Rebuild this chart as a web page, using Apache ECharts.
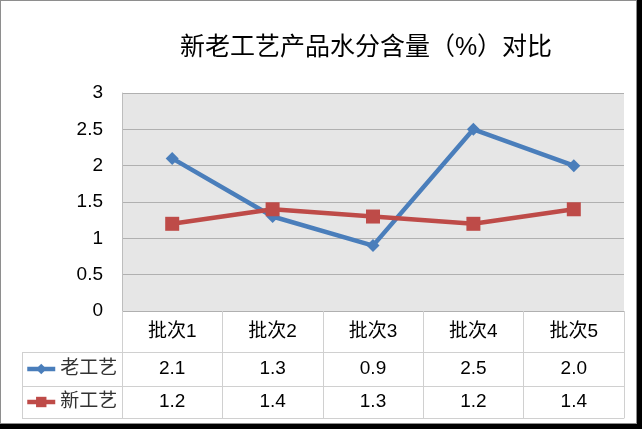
<!DOCTYPE html>
<html>
<head>
<meta charset="utf-8">
<script src="https://cdn.jsdelivr.net/npm/echarts@6/dist/echarts.min.js"></script>
<style>
  html, body { margin: 0; padding: 0; background: #000; }
  #wrap { position: relative; width: 642px; height: 429px; background: #000; overflow: hidden; }
  #card { position: absolute; left: 0; top: 0; width: 637px; height: 424px; box-sizing: border-box;
          background: #fff; border: 1px solid #8e8e8e; }
  #chart { position: absolute; left: 0; top: 0; width: 642px; height: 429px; }
</style>
</head>
<body>
<div id="wrap">
  <div id="card"></div>
  <div id="chart"></div>
</div>
<script>
// Batches and moisture content (%) for the old and new process
const categories = ['批次1', '批次2', '批次3', '批次4', '批次5'];
const oldProcess = [2.1, 1.3, 0.9, 2.5, 2.0];
const newProcess = [1.2, 1.4, 1.3, 1.2, 1.4];
const seriesNames = ['老工艺', '新工艺'];
const yTicks = { min: 0, max: 3, interval: 0.5 };

const FONT = '"Liberation Sans", Arial, "Noto Sans CJK SC", sans-serif';
const TABLE_LINE = '#d0d0d0';
const BLUE = '#4a7ebb';
const RED = '#be4b48';
const fmt = v => v.toFixed(1);

// layout of the plot and the data table below it
const plotLeft = 122, plotRight = 624, plotTop = 93, plotBottom = 311;
const rowLines = [352, 386, 418];
const keyLeft = 22;

const chart = echarts.init(document.getElementById('chart'), null, { renderer: 'canvas' });

const tableAxis = (values, offset, margin) => ({
  type: 'category',
  position: 'bottom',
  data: values,
  offset: offset,
  boundaryGap: true,
  axisLine: { show: true, lineStyle: { color: TABLE_LINE, width: 1 } },
  axisTick: { show: false },
  splitLine: { show: false },
  axisLabel: {
    show: margin !== null,
    interval: 0,
    margin: margin || 0,
    verticalAlign: 'middle',
    color: '#000',
    fontFamily: FONT,
    fontSize: 19
  }
});

const option = {
  animation: false,
  textStyle: { fontFamily: FONT },
  title: {
    text: '新老工艺产品水分含量（%）对比',
    left: 366,
    top: 36,
    textAlign: 'center',
    padding: 0,
    textStyle: { fontFamily: FONT, fontSize: 25, fontWeight: 'normal', color: '#000' }
  },
  legend: {
    data: seriesNames,
    orient: 'vertical',
    left: 25,
    top: 359,
    itemWidth: 28,
    itemHeight: 13,
    itemGap: 13,
    padding: 0,
    lineStyle: { width: 4.5 },
    textStyle: { fontFamily: FONT, fontSize: 19, color: '#333', lineHeight: 20 }
  },
  grid: {
    left: plotLeft,
    right: 642 - plotRight,
    top: plotTop,
    bottom: 429 - plotBottom,
    show: true,
    backgroundColor: '#e6e6e6',
    borderWidth: 0,
    containLabel: false
  },
  xAxis: [
    {
      type: 'category',
      position: 'bottom',
      data: categories,
      boundaryGap: true,
      axisLine: { show: false },
      axisTick: { show: true, inside: false, length: rowLines[2] - plotBottom, lineStyle: { color: TABLE_LINE, width: 1 } },
      splitLine: { show: false },
      axisLabel: { interval: 0, margin: 21, verticalAlign: 'middle', color: '#000', fontFamily: FONT, fontSize: 19 }
    },
    tableAxis(oldProcess.map(fmt), rowLines[0] - plotBottom, 17),
    tableAxis(newProcess.map(fmt), rowLines[1] - plotBottom, 16),
    tableAxis(categories, rowLines[2] - plotBottom, null)
  ],
  yAxis: {
    type: 'value',
    min: yTicks.min,
    max: yTicks.max,
    interval: yTicks.interval,
    axisLine: { show: true, lineStyle: { color: '#bdbdbd', width: 1 } },
    axisTick: { show: false },
    splitLine: { show: true, lineStyle: { color: '#b0b0b0', width: 1 } },
    axisLabel: {
      margin: 19,
      color: '#000',
      fontFamily: FONT,
      fontSize: 19,
      formatter: v => String(v)
    }
  },
  series: [
    {
      name: seriesNames[0],
      type: 'line',
      xAxisIndex: 0,
      data: oldProcess,
      symbol: 'diamond',
      symbolSize: 13,
      lineStyle: { color: BLUE, width: 4.5 },
      itemStyle: { color: BLUE }
    },
    {
      name: seriesNames[1],
      type: 'line',
      xAxisIndex: 0,
      data: newProcess,
      symbol: 'rect',
      symbolSize: 14,
      lineStyle: { color: RED, width: 4.5 },
      itemStyle: { color: RED }
    }
  ],
  graphic: [
    // borders of the series-key column of the data table
    ...rowLines.map(y => ({
      type: 'line', silent: true,
      shape: { x1: keyLeft, y1: y + 0.5, x2: plotLeft, y2: y + 0.5 },
      style: { stroke: TABLE_LINE, lineWidth: 1 }
    })),
    {
      type: 'line', silent: true,
      shape: { x1: keyLeft + 0.5, y1: rowLines[0], x2: keyLeft + 0.5, y2: rowLines[2] + 0.5 },
      style: { stroke: TABLE_LINE, lineWidth: 1 }
    }
  ]
};

chart.setOption(option);
</script>
</body>
</html>
